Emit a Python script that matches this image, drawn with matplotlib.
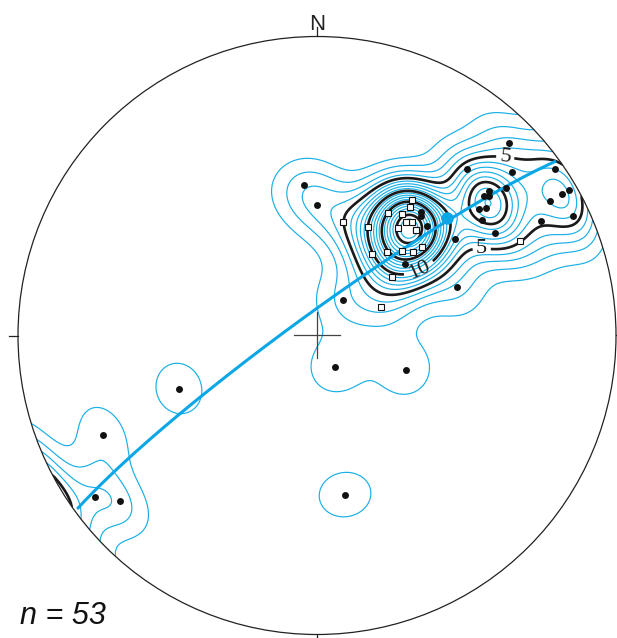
import numpy as np
import matplotlib
matplotlib.use("Agg")
import matplotlib.pyplot as plt
from matplotlib.patches import Circle

# Measured orientations (trend / plunge, degrees), lower-hemisphere equal-area net
dot_trend = [355, 0, 40, 41, 45, 55, 51, 45, 71, 36, 45, 42, 50, 55, 50, 50, 51,
             52, 52, 53, 55, 60, 60, 60, 63, 65, 60, 249, 150, 111, 170, 245, 234, 230]
dot_plunge = [48, 54, 45, 46, 47, 43, 59, 57, 49, 78, 10, 26, 16, 3, 26, 28, 27,
              21, 32, 30, 33, 6, 3, 11, 17, 6, 32, 49, 80, 64, 45, 22, 9, 15]
sq_trend = [13, 25, 30, 35, 35, 36, 40, 43, 43, 38, 37, 34, 40, 45, 49, 50, 52, 66, 65]
sq_plunge = [58, 57, 51, 49, 44, 46, 49, 50, 50, 50, 53, 63, 60, 57, 55, 52, 64, 71, 26]

plane_strike, plane_dip = 234, 84      # right-hand rule
lin_trend, lin_plunge = 48, 41
n_label = "n = 53"

CYAN = "#1AAFE6"
KAPPA = 78.0        # smoothing kernel concentration
SCALE = 1.12        # counting normalisation (% per 1 % area)


def to_vec(trend, plunge):
    t = np.radians(trend)
    p = np.radians(plunge)
    return np.stack([np.sin(t) * np.cos(p), np.cos(t) * np.cos(p), np.sin(p)], axis=-1)


def project(v):
    v = np.atleast_2d(v).copy()
    flip = v[:, 2] < 0
    v[flip] *= -1
    theta = np.arccos(np.clip(v[:, 2], -1, 1))
    r = np.sqrt(2) * np.sin(theta / 2)
    h = np.hypot(v[:, 0], v[:, 1])
    h[h == 0] = 1
    return r * v[:, 0] / h, r * v[:, 1] / h


def unproject(x, y):
    r = np.clip(np.hypot(x, y), 1e-12, 1.0)
    theta = 2 * np.arcsin(r / np.sqrt(2))
    sx = x / np.maximum(np.hypot(x, y), 1e-12)
    sy = y / np.maximum(np.hypot(x, y), 1e-12)
    return np.stack([np.sin(theta) * sx, np.sin(theta) * sy, np.cos(theta)], axis=-1)


fig = plt.figure(figsize=(6.17, 6.38), dpi=100)
ax = fig.add_axes([0, 0, 1, 1])
ax.set_xlim(-317 / 299, 300 / 299)
ax.set_ylim(-302.5 / 299, 335.5 / 299)
ax.set_aspect("equal")
ax.axis("off")

# Density grid (axial Fisher kernel)
all_vec = np.vstack([to_vec(np.array(dot_trend), np.array(dot_plunge)),
                     to_vec(np.array(sq_trend), np.array(sq_plunge))])
n = len(all_vec)
g = np.linspace(-1.02, 1.02, 420)
GX, GY = np.meshgrid(g, g)
G = unproject(GX, GY)
c = G @ all_vec.T
dens = (KAPPA * (np.exp(KAPPA * (c - 1)) + np.exp(KAPPA * (-c - 1)))).sum(axis=-1) / n
dens *= SCALE / (1 - np.exp(-2 * KAPPA))

clip = Circle((0, 0), 1.0, transform=ax.transData)
top = int(np.floor(dens.max()))
cyan_levels = [l for l in range(1, top + 1) if l % 5]
high_levels = [l for l in range(10, top + 1, 5)]
cs1 = ax.contour(GX, GY, dens, levels=cyan_levels, colors=CYAN, linewidths=0.85)
cs5 = ax.contour(GX, GY, dens, levels=[5], colors="#1a1a1a", linewidths=1.9)
sets = [cs1, cs5]
if high_levels:
    cs10 = ax.contour(GX, GY, dens, levels=high_levels, colors="#1a1a1a", linewidths=1.9)
    sets.append(cs10)
for cs in sets:
    cs.set_clip_path(clip)

lbl_kw = dict(inline=True, fontsize=16, colors="#1a1a1a", fmt="%d", inline_spacing=2)
labels = list(ax.clabel(cs5, manual=[(0.63, 0.60), (0.552, 0.329)], **lbl_kw))
if high_levels:
    labels += list(ax.clabel(cs10, levels=[10], manual=[(0.338, 0.229)], **lbl_kw))
for t in labels:
    t.set_fontfamily("Liberation Serif")

# Great circle
s = np.radians(plane_strike)
d = np.radians(plane_dip)
strike_v = np.array([np.sin(s), np.cos(s), 0.0])
dip_t = s + np.pi / 2
dip_v = np.array([np.sin(dip_t) * np.cos(d), np.cos(dip_t) * np.cos(d), np.sin(d)])
a = np.linspace(0.02, np.pi - 0.02, 361)
gc = np.outer(np.cos(a), strike_v) + np.outer(np.sin(a), dip_v)
gx, gy = project(gc)
ax.plot(gx, gy, color="#0AA6E6", lw=2.2, solid_capstyle="butt", zorder=4)

# Data points
dx, dy = project(to_vec(np.array(dot_trend), np.array(dot_plunge)))
ax.plot(dx, dy, "o", ms=5.0, color="#111111", mec="none", zorder=5)
qx, qy = project(to_vec(np.array(sq_trend), np.array(sq_plunge)))
ax.plot(qx, qy, "s", ms=4.6, mfc="white", mec="#111111", mew=0.8, zorder=5)
lx, ly = project(to_vec(lin_trend, lin_plunge))
ax.plot(lx, ly, "o", ms=9, color="#0AA6E6", mec="none", zorder=6)

# Primitive circle, ticks, centre cross
ax.add_patch(Circle((0, 0), 1.0, fill=False, ec="#222222", lw=0.9, zorder=3))
tk = 9 / 299
for ang in (0, 90, 180, 270):
    u = np.array([np.sin(np.radians(ang)), np.cos(np.radians(ang))])
    ax.plot([u[0], u[0] * (1 + tk)], [u[1], u[1] * (1 + tk)], color="#222222", lw=0.9)
cr = 23 / 299
ax.plot([-cr, cr], [0, 0], color="#444444", lw=0.9)
ax.plot([0, 0], [-cr, cr], color="#444444", lw=0.9)

ax.text(0, 1 + 7 / 299, "N", ha="center", va="baseline", fontsize=16,
        fontfamily="Liberation Sans", color="#222222")
ax.text(-297 / 299, -288 / 299, n_label, ha="left", va="baseline", fontsize=22,
        fontstyle="italic", fontfamily="Liberation Sans", color="#111111")

fig.savefig("out.png", dpi=100)
